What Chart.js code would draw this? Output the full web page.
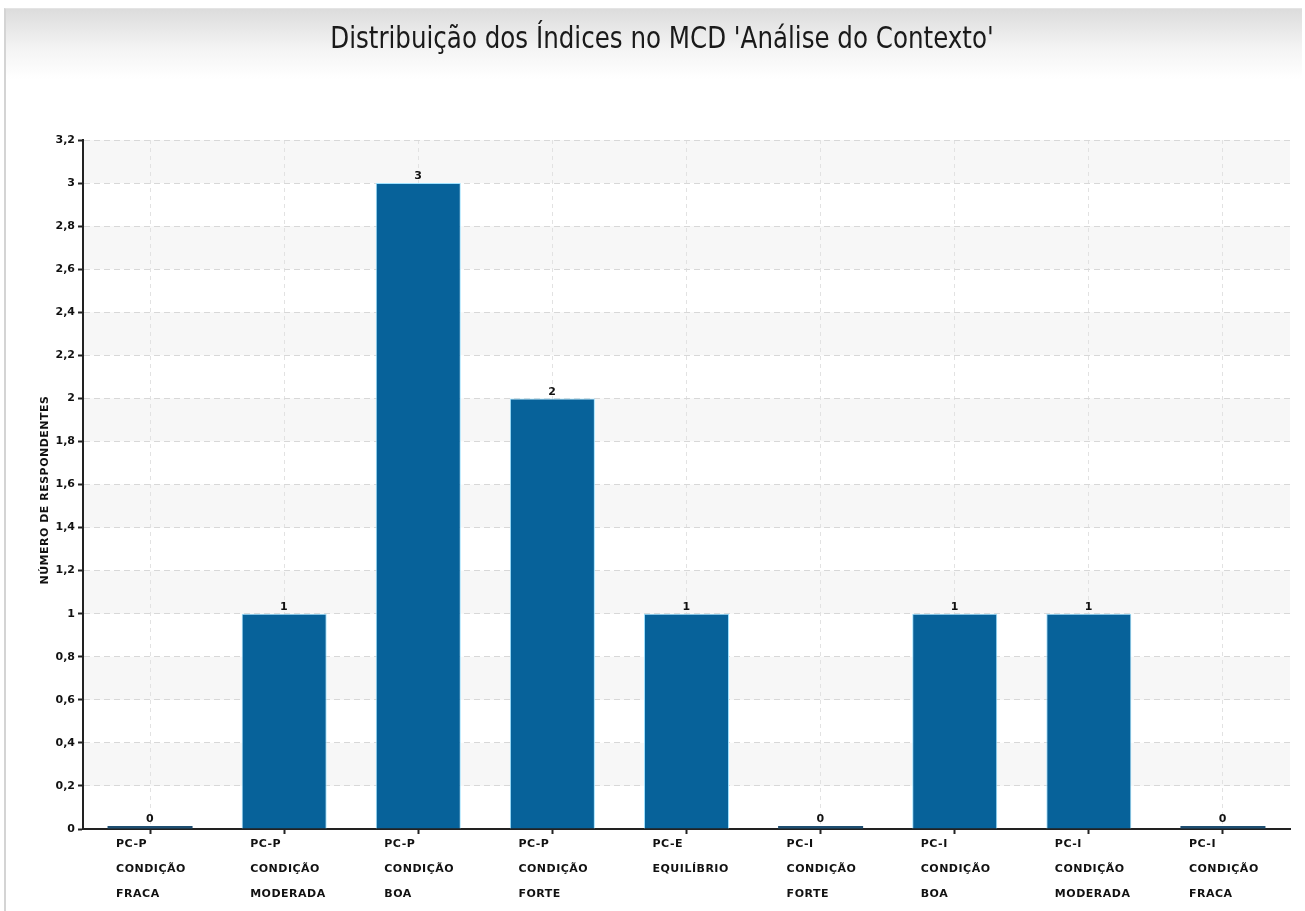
<!DOCTYPE html>
<html>
<head>
<meta charset="utf-8">
<script src="https://cdn.jsdelivr.net/npm/chart.js@4.4.1/dist/chart.umd.min.js"></script>
<style>
  html, body { margin: 0; padding: 0; background: #fff; }
  #frame {
    position: absolute; left: 4px; top: 8px; width: 1296px; height: 903px;
    border-left: 2px solid #d4d4d4; border-top: 1px solid #e4e4e4;
    background: linear-gradient(#dcdcdc 0px, #f4f4f4 40px, #ffffff 70px, #ffffff 100%);
  }
  #wrap { position: absolute; left: 0; top: 0; width: 1305px; height: 911px; }
</style>
</head>
<body>
<div id="frame"></div>
<div id="wrap"><canvas id="myChart" width="1305" height="911"></canvas></div>
<script>
// category labels, split over three lines under each bar
var catCode  = ['PC-P', 'PC-P', 'PC-P', 'PC-P', 'PC-E', 'PC-I', 'PC-I', 'PC-I', 'PC-I'];
var catCond  = ['CONDIÇÃO', 'CONDIÇÃO', 'CONDIÇÃO', 'CONDIÇÃO', 'EQUILÍBRIO', 'CONDIÇÃO', 'CONDIÇÃO', 'CONDIÇÃO', 'CONDIÇÃO'];
var catGrade = ['FRACA', 'MODERADA', 'BOA', 'FORTE', '', 'FORTE', 'BOA', 'MODERADA', 'FRACA'];

// number of respondents per index
var respondents = [0, 1, 3, 2, 1, 0, 1, 1, 0];

var yMin = 0, yMax = 3.2, yStep = 0.2;

var chartTitle = "Distribuição dos Índices no MCD 'Análise do Contexto'";
var yTitle = 'NÚMERO DE RESPONDENTES';

var labelFont = 'bold 11px "DejaVu Sans"';

// faint alternating bands behind the grid
var bandsPlugin = {
  id: 'bands',
  beforeDraw: function(chart) {
    var ctx = chart.ctx, y = chart.scales.y, a = chart.chartArea;
    var ticks = y.ticks;
    ctx.save();
    ctx.fillStyle = '#f7f7f7';
    for (var i = ticks.length - 1; i > 0; i -= 2) {
      var top = y.getPixelForValue(ticks[i].value);
      var bot = y.getPixelForValue(ticks[i - 1].value);
      ctx.fillRect(a.left, top, a.right - a.left, bot - top);
    }
    ctx.restore();
  }
};

// title, axis title, bar values and left aligned category text
var textPlugin = {
  id: 'texts',
  afterDatasetsDraw: function(chart) {
    var ctx = chart.ctx;
    var a = chart.chartArea;
    var meta = chart.getDatasetMeta(0);
    ctx.save();

    // condensed title
    ctx.save();
    ctx.font = '30px "Liberation Sans Narrow", "DejaVu Sans Condensed", sans-serif';
    ctx.fillStyle = '#1a1a1a';
    ctx.textAlign = 'center';
    ctx.textBaseline = 'middle';
    ctx.translate(662, 40);
    ctx.scale(0.91, 1);
    ctx.fillText(chartTitle, 0, 0);
    ctx.restore();

    ctx.font = labelFont;
    ctx.letterSpacing = '0.5px';
    ctx.fillStyle = '#111';

    // y axis title
    ctx.save();
    ctx.translate(45, 490);
    ctx.rotate(-Math.PI / 2);
    ctx.textAlign = 'center';
    ctx.textBaseline = 'middle';
    ctx.fillText(yTitle, 0, 0);
    ctx.restore();

    ctx.textAlign = 'center';
    ctx.textBaseline = 'bottom';
    meta.data.forEach(function(bar, i) {
      ctx.fillText(String(respondents[i]), bar.x, bar.y - 1);
    });

    var x = chart.scales.x;
    ctx.textAlign = 'left';
    ctx.textBaseline = 'middle';
    for (var i = 0; i < catCode.length; i++) {
      var px = x.getPixelForTick(i) - 34;
      ctx.fillText(catCode[i], px, a.bottom + 15);
      ctx.fillText(catCond[i], px, a.bottom + 40);
      if (catGrade[i]) ctx.fillText(catGrade[i], px, a.bottom + 65);
    }
    ctx.restore();
  }
};

var ctx = document.getElementById('myChart').getContext('2d');
var myChart = new Chart(ctx, {
  type: 'bar',
  data: {
    labels: catCode.map(function(c, i) { return [c, catCond[i], catGrade[i]]; }),
    datasets: [{
      data: respondents,
      backgroundColor: function(c) { return respondents[c.dataIndex] === 0 ? '#1f4f72' : '#07629a'; },
      borderColor: '#9fe2ff',
      borderWidth: function(c) { return respondents[c.dataIndex] === 0 ? 0 : 1; },
      minBarLength: 3,
      barPercentage: 0.634,
      categoryPercentage: 1
    }]
  },
  plugins: [bandsPlugin, textPlugin],
  options: {
    responsive: false,
    animation: false,
    events: [],
    layout: { padding: { left: 0, right: 15, top: 140, bottom: 0 } },
    plugins: {
      legend: { display: false },
      tooltip: { enabled: false },
      title: { display: false }
    },
    scales: {
      x: {
        offset: true,
        afterFit: function(s) { s.height = 82; },
        ticks: { display: false },
        grid: {
          offset: false,
          color: '#e2e2e2',
          tickColor: '#222',
          tickBorderDash: [],
          tickLength: 5,
          tickWidth: 2
        },
        border: { color: '#222', width: 2, dash: [4, 4] }
      },
      y: {
        min: yMin,
        max: yMax,
        afterFit: function(s) { s.width = 83; },
        ticks: {
          stepSize: yStep,
          color: '#111',
          font: { family: '"DejaVu Sans"', size: 11, weight: 'bold' },
          padding: 3,
          callback: function(v) { return String(Math.round(v * 10) / 10).replace('.', ','); }
        },
        grid: {
          color: '#d8d8d8',
          tickColor: '#222',
          tickBorderDash: [],
          tickLength: 5,
          tickWidth: 2
        },
        border: { color: '#222', width: 2, dash: [6, 4] }
      }
    }
  }
});
</script>
</body>
</html>
